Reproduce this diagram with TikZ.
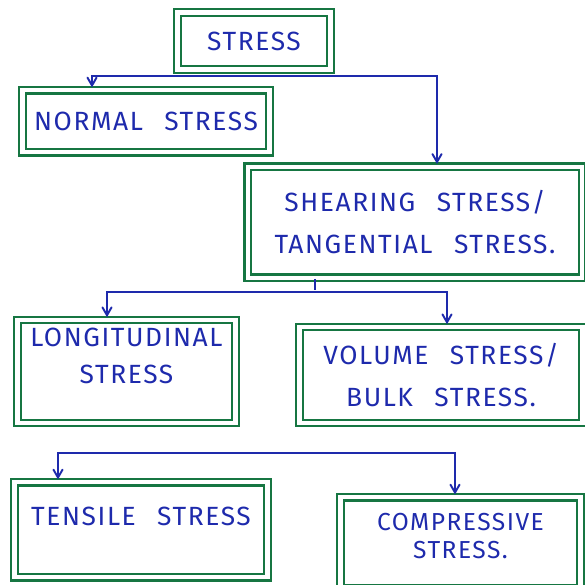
\documentclass[tikz,border=0pt]{standalone}
\usepackage{fontspec}
\setmainfont{Fira Sans}[LetterSpace=6,WordSpace=2.5]
\usepackage{tikz}
\usetikzlibrary{arrows,positioning,calc}
\definecolor{boxgreen}{RGB}{22,118,66}
\definecolor{inkblue}{RGB}{30,42,172}

\begin{document}
\begin{tikzpicture}[->,>=angle 60,shorten >=1pt,line width=1.1pt,color=inkblue]
  \tikzstyle{box}=[rectangle,draw=boxgreen,double=white,double distance=2.4pt,line width=1.3pt,
                   text=inkblue,align=center,font=\fontsize{15}{24}\selectfont]

  \useasboundingbox (0,0) rectangle (11.7,-11.68);

  \node[box,minimum width=3.06cm,minimum height=1.14cm] (stress) at (5.08,-0.82) {STRESS};
  \node[box,minimum width=4.94cm,minimum height=1.24cm] (normal) [below=0.37cm of stress,xshift=-2.16cm] {NORMAL STRESS};
  \node[box,minimum width=6.69cm,minimum height=2.22cm] (shear) [below=1.9cm of stress,xshift=3.22cm] {SHEARING STRESS/\\TANGENTIAL STRESS.};
  \node[box,minimum width=4.36cm,minimum height=2.06cm,font=\fontsize{15}{21}\selectfont,text depth=0.62cm] (longit) [below=0.8cm of shear,xshift=-5.77cm] {LONGITUDINAL\\STRESS};
  \node[box,minimum width=5.66cm,minimum height=1.92cm] (volume) [below=0.94cm of shear,xshift=0.52cm] {VOLUME STRESS/\\BULK STRESS.};
  \node[box,minimum width=5.06cm,minimum height=1.9cm,text depth=0.55cm] (tensile) [below=1.14cm of longit,xshift=0.29cm] {TENSILE STRESS};
  \node[box,minimum width=4.8cm,minimum height=1.83cm,font=\fontsize{14}{16}\selectfont,text depth=0.3cm] (compr) [below=1.44cm of volume,xshift=0.39cm] {COMPRESSIVE\\STRESS.};

  \coordinate (split1) at ([yshift=-0.11cm]stress.south);
  \draw (split1) -| ([xshift=-1.08cm]normal.north);
  \draw (split1) -| ([xshift=0.44cm]shear.north);

  \coordinate (split2) at ([xshift=-2cm,yshift=-0.26cm]shear.south);
  \draw[-] ([xshift=-2cm]shear.south) -- (split2);
  \draw (split2) -| ([xshift=-0.39cm]longit.north);
  \draw (split2) -| ([xshift=0.12cm]volume.north);

  \coordinate (split3) at ($(longit.south)!0.5!(volume.south)+(0,-0.57)$);
  \draw (split3) -| ([xshift=-1.66cm]tensile.north);
  \draw (split3) -| ([xshift=-0.11cm]compr.north);
\end{tikzpicture}
\end{document}
